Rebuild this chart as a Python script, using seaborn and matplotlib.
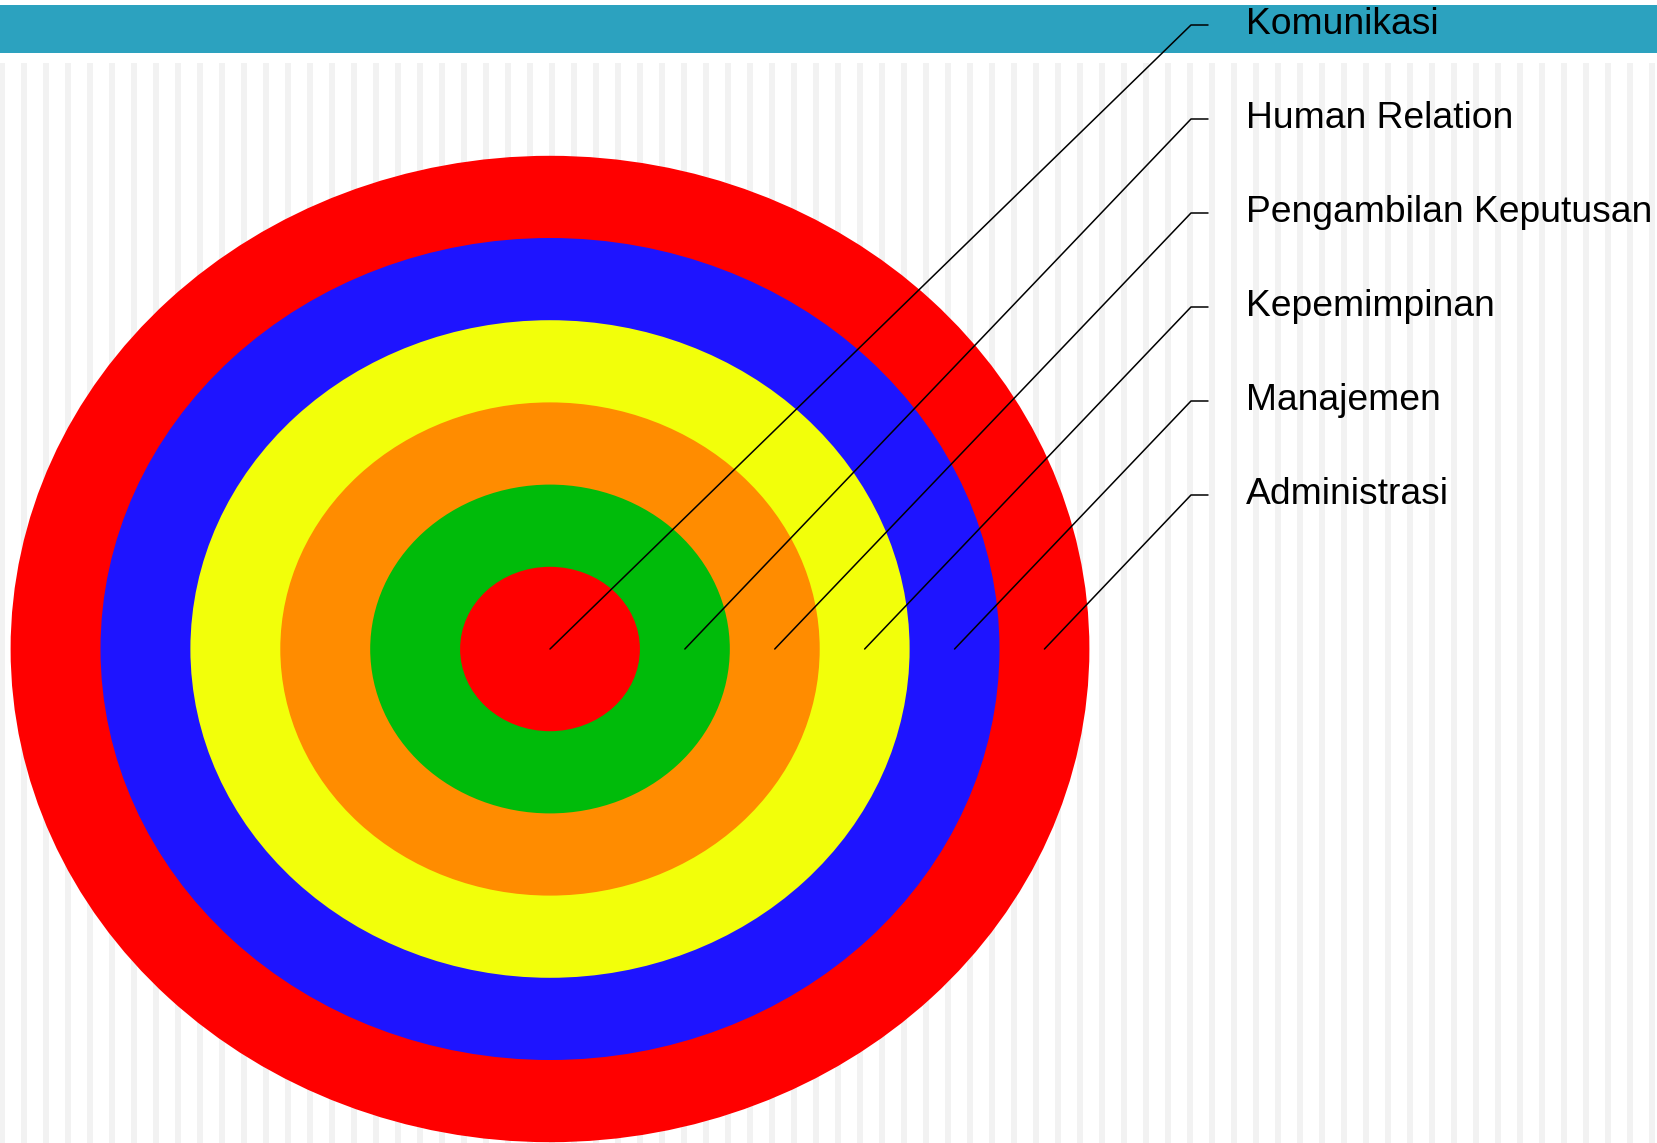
import matplotlib
matplotlib.use("Agg")
import matplotlib.pyplot as plt
from matplotlib.patches import Ellipse, Rectangle
import seaborn as sns

sns.set_theme(style="white")
plt.rcParams['font.family'] = ['Liberation Sans', 'DejaVu Sans']

# rings from the centre outwards, each label points at its ring
labels = ["Komunikasi", "Human Relation", "Pengambilan Keputusan",
          "Kepemimpinan", "Manajemen", "Administrasi"]
ring_colors = ["#FF0000", "#00BB0A", "#FF8C00", "#F2FF0A", "#1E14FF", "#FF0000"]
ring_levels = [1, 2, 3, 4, 5, 6]

W, H = 1658, 1143
fig = plt.figure(figsize=(W / 100, H / 100), dpi=100)
ax = fig.add_axes([0, 0, 1, 1])
ax.set_xlim(0, W)
ax.set_ylim(H, 0)
ax.axis("off")

# background stripes and header bar
for x in range(2, W + 22, 22):
    ax.add_patch(Rectangle((x - 3, 63), 6, H - 63, color="#F2F2F2", lw=0, zorder=0))
ax.add_patch(Rectangle((0, 5), W, 48, color="#2CA2BF", lw=0, zorder=1))

cx, cy = 550, 649
step_x, step_y = 89.9, 82.2

for lvl, col in sorted(zip(ring_levels, ring_colors), reverse=True):
    ax.add_patch(Ellipse((cx, cy), 2 * lvl * step_x, 2 * lvl * step_y,
                         color=col, lw=0, zorder=2))

# leader lines and labels
for i, (lvl, lab) in enumerate(zip(ring_levels, labels)):
    x0 = cx if lvl == 1 else cx + (lvl - 0.5) * step_x
    ly = 25 + 94 * i
    ax.plot([x0, 1191, 1208], [cy, ly, ly], color="black", lw=1.1, zorder=3)
    ax.text(1246, ly, lab, fontsize=26.8, va="center", ha="left",
            color="black", zorder=4)

fig.savefig("out.png", dpi=100)
